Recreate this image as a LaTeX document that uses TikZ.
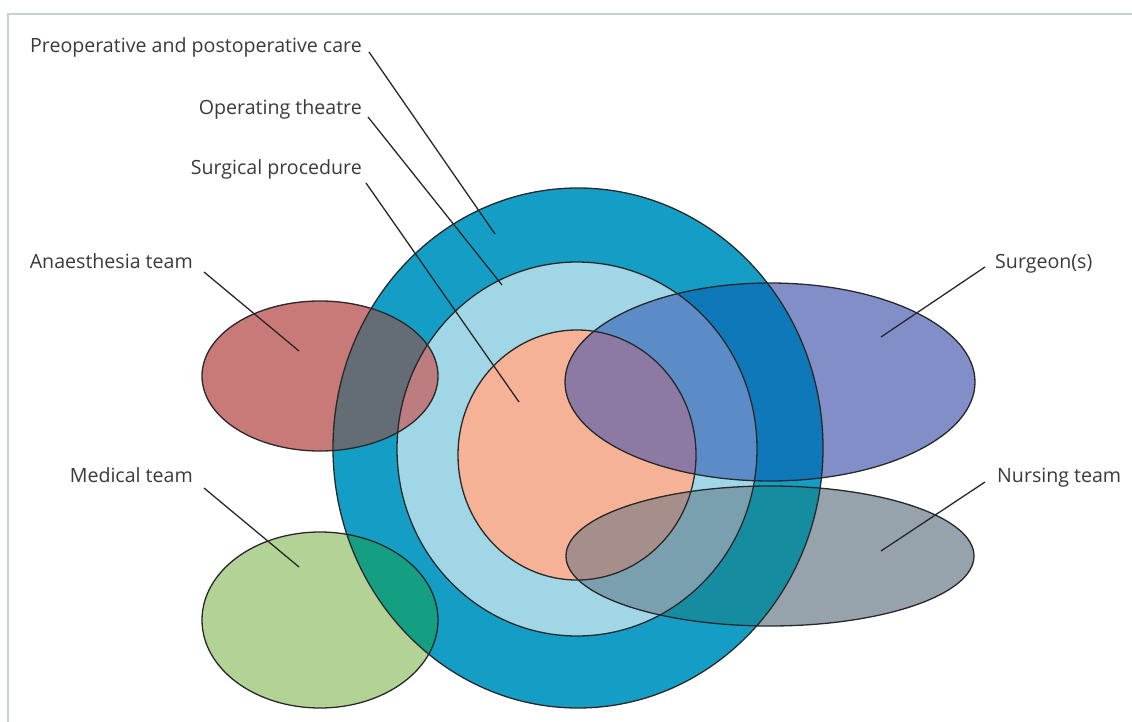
\documentclass[tikz,border=0pt]{standalone}
\usepackage{fontspec}
\setmainfont{Open Sans}
\usetikzlibrary{shapes.geometric,calc}
\definecolor{frameC}{RGB}{195,210,210}
\definecolor{txtC}{RGB}{58,58,58}
\definecolor{lineC}{RGB}{40,40,40}
\definecolor{ringC}{RGB}{20,158,198}
\definecolor{lbC}{RGB}{160,214,230}
\definecolor{salC}{RGB}{246,178,150}
\definecolor{anaeC}{RGB}{200,122,120}
\definecolor{anaeRing}{RGB}{100,108,118}
\definecolor{anaeLB}{RGB}{188,124,128}
\definecolor{medC}{RGB}{178,210,150}
\definecolor{medRing}{RGB}{20,158,130}
\definecolor{surgC}{RGB}{130,142,200}
\definecolor{surgRing}{RGB}{14,120,185}
\definecolor{surgLB}{RGB}{92,140,200}
\definecolor{surgSal}{RGB}{140,122,165}
\definecolor{nursC}{RGB}{150,162,172}
\definecolor{nursRing}{RGB}{22,140,160}
\definecolor{nursLB}{RGB}{122,160,176}
\definecolor{nursSal}{RGB}{166,142,138}
\tikzset{
  ringpath/.style={insert path={(578,448) ellipse [x radius=245pt, y radius=260pt]}},
  lbpath/.style={insert path={(577,449) ellipse [x radius=180pt, y radius=187pt]}},
  salpath/.style={insert path={(577,455) ellipse [x radius=119pt, y radius=125pt]}},
  anaepath/.style={insert path={(320,376) ellipse [x radius=118pt, y radius=75pt]}},
  medpath/.style={insert path={(320,620) ellipse [x radius=118pt, y radius=88pt]}},
  surgpath/.style={insert path={(770,382) ellipse [x radius=205pt, y radius=99pt]}},
  nurspath/.style={insert path={(770,556) ellipse [x radius=204pt, y radius=70pt]}},
  outline/.style={draw=lineC, line width=1.3pt, ellipse, inner sep=0pt, outer sep=0pt},
  lbl/.style={text=txtC, font=\fontsize{19.6}{23}\selectfont, inner sep=0pt},
  leader/.style={draw=lineC, line width=1.3pt}
}
\begin{document}
\begin{tikzpicture}[x=1pt,y=-1pt]
\useasboundingbox (0,0) rectangle (1132,722);
\draw[frameC, line width=2pt] (1132,14) -- (8,14) -- (8,722);
% base circles
\fill[ringC, ringpath];
\fill[lbC, lbpath];
\fill[salC, salpath];
% anaesthesia
\fill[anaeC, anaepath];
\begin{scope}
\clip[anaepath];
\fill[anaeRing, ringpath];
\fill[anaeLB, lbpath];
\end{scope}
% medical
\fill[medC, medpath];
\begin{scope}
\clip[medpath];
\fill[medRing, ringpath];
\end{scope}
% surgeon
\fill[surgC, surgpath];
\begin{scope}
\clip[surgpath];
\fill[surgRing, ringpath];
\fill[surgLB, lbpath];
\fill[surgSal, salpath];
\end{scope}
% nursing
\fill[nursC, nurspath];
\begin{scope}
\clip[nurspath];
\fill[nursRing, ringpath];
\fill[nursLB, lbpath];
\fill[nursSal, salpath];
\end{scope}
% outlines
\node[outline, minimum width=490pt, minimum height=520pt] (ring) at (578,448) {};
\node[outline, minimum width=360pt, minimum height=374pt] (theatre) at (577,449) {};
\node[outline, minimum width=238pt, minimum height=250pt] (proc) at (577,455) {};
\node[outline, minimum width=236pt, minimum height=150pt] (anae) at (320,376) {};
\node[outline, minimum width=236pt, minimum height=176pt] (med) at (320,620) {};
\node[outline, minimum width=410pt, minimum height=198pt] (surg) at (770,382) {};
\node[outline, minimum width=408pt, minimum height=140pt] (nurs) at (770,556) {};
% labels
\node[lbl, anchor=base east] (Lpre) at (362,53) {Preoperative and postoperative care};
\node[lbl, anchor=base east] (Lop) at (362,115) {Operating theatre};
\node[lbl, anchor=base east] (Lsp) at (362,175) {Surgical procedure};
\node[lbl, anchor=base east] (Lan) at (193,268) {Anaesthesia team};
\node[lbl, anchor=base east] (Lme) at (193,482) {Medical team};
\node[lbl, anchor=base west] (Lsu) at (995,268) {Surgeon(s)};
\node[lbl, anchor=base west] (Lnu) at (997,482) {Nursing team};
% leader ends
\coordinate (Epre) at (495,234);
\coordinate (Eop) at (502,285);
\coordinate (Esp) at (519,402);
\coordinate (Ean) at (299,351);
\coordinate (Eme) at (299,567);
\coordinate (Esu) at (881,337);
\coordinate (Enu) at (881,551);
\draw[leader] ($(Lpre.base east)+(7,-1)$) -- (Epre);
\draw[leader] ($(Lop.base east)+(6,2)$) -- (Eop);
\draw[leader] ($(Lsp.base east)+(4,8)$) -- (Esp);
\draw[leader] ($(Lan.base east)+(11,4)$) -- (Ean);
\draw[leader] ($(Lme.base east)+(11,6)$) -- (Eme);
\draw[leader] ($(Lsu.base west)+(-10,-1)$) -- (Esu);
\draw[leader] ($(Lnu.base west)+(-12,0)$) -- (Enu);
\end{tikzpicture}
\end{document}
